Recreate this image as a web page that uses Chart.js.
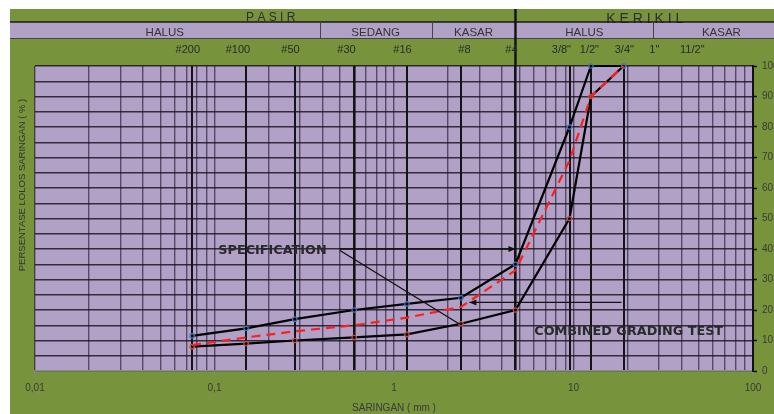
<!DOCTYPE html>
<html>
<head>
<meta charset="utf-8">
<script src="https://cdn.jsdelivr.net/npm/chart.js@4.4.1/dist/chart.umd.min.js"></script>
<style>
  html, body { margin: 0; padding: 0; background: #fff; }
  canvas { display: block; }
</style>
</head>
<body>
<canvas id="chart" width="774" height="414"></canvas>
<script>
// sieve openings (mm) and percent passing
const sieveSizes = [0.075, 0.15, 0.28, 0.6, 1.18, 2.36, 4.75, 9.5, 12.5, 19];
const specUpper  = [11.5, 14, 17, 20, 22, 24, 35, 80, 100, 100];
const specLower  = [8, 9, 10, 11, 12, 15.5, 20, 50, 90, 100];
const combined   = [8.5, 11, 13, 15, 17.5, 21, 33, 69, 90, 100];

// sieve names along the top, and where each name sits (mm)
const sieveNames  = ['#200', '#100', '#50', '#30', '#16', '#8', '#4', '3/8"', '1/2"', '3/4"', '1"', '11/2"'];
const sieveNameAt = [0.071, 0.135, 0.265, 0.544, 1.115, 2.47, 4.51, 8.56, 12.26, 19.2, 28.2, 45.9];

// header bands (edges in mm)
const groupNames = ['P A S I R', 'K E R I K I L'];
const groupEdges = [0.0072, 4.75, 160];
const bandNames  = ['HALUS', 'SEDANG', 'KASAR', 'HALUS', 'KASAR'];
const bandEdges  = [0.0072, 0.385, 1.62, 4.75, 27.8, 160];

const xDecades    = [0.01, 0.1, 1, 10, 100];
const xTickLabels = ['0,01', '0,1', '1', '10', '100'];

const GREEN = '#77933c';
const PURPLE = '#b2a1c7';
const TEXT = '#333';

// vertical grid: every log minor line plus each sieve opening
const xGridValues = [];
for (let e = -2; e < 2; e++) {
  for (let k = 1; k < 10; k++) xGridValues.push(+(k * Math.pow(10, e)).toPrecision(3));
}
xGridValues.push(100);
sieveSizes.forEach(s => { if (!xGridValues.includes(s)) xGridValues.push(s); });
xGridValues.sort((a, b) => a - b);

function vWidth(v) {
  if (v === 0.6 || v === 4.75) return 2.6;
  if (sieveSizes.includes(v)) return 2;
  return 1.4;
}
function vColor(v) {
  if (sieveSizes.includes(v)) return '#141414';
  return 'rgba(30,20,40,0.62)';
}

function arrow(ctx, x1, y1, x2, y2) {
  ctx.beginPath();
  ctx.moveTo(x1, y1);
  ctx.lineTo(x2, y2);
  ctx.stroke();
  const ang = Math.atan2(y2 - y1, x2 - x1);
  ctx.beginPath();
  ctx.moveTo(x2, y2);
  ctx.lineTo(x2 - 7 * Math.cos(ang) + 3 * Math.sin(ang), y2 - 7 * Math.sin(ang) - 3 * Math.cos(ang));
  ctx.lineTo(x2 - 7 * Math.cos(ang) - 3 * Math.sin(ang), y2 - 7 * Math.sin(ang) + 3 * Math.cos(ang));
  ctx.closePath();
  ctx.fill();
}

const backdrop = {
  id: 'backdrop',
  beforeDraw(chart) {
    const { ctx, width, height, chartArea: a } = chart;
    ctx.save();
    ctx.fillStyle = '#fff';
    ctx.fillRect(0, 0, width, height);
    ctx.fillStyle = GREEN;
    ctx.fillRect(10, 9, width - 10, height - 9);
    ctx.fillStyle = PURPLE;
    ctx.fillRect(10, 22, width - 10, 16);
    ctx.fillRect(a.left, a.top, a.right - a.left, a.bottom - a.top);
    ctx.restore();
  },
  afterDraw(chart) {
    const { ctx, width, chartArea: a } = chart;
    const xs = chart.scales.x, ys = chart.scales.y;
    const px = v => xs.getPixelForValue(v);
    const py = v => ys.getPixelForValue(v);
    ctx.save();
    ctx.beginPath();
    ctx.rect(10, 9, width - 10, a.top - 9);
    ctx.clip();

    // group row
    ctx.fillStyle = '#2f2f2f';
    ctx.textAlign = 'center';
    ctx.textBaseline = 'alphabetic';
    groupNames.forEach((n, i) => {
      const x = (Math.max(px(groupEdges[i]), 10) + Math.min(px(groupEdges[i + 1]), width)) / 2;
      ctx.font = i === 0 ? '12px "Liberation Sans", Arial, sans-serif' : '14px "Liberation Sans", Arial, sans-serif';
      ctx.fillText(n, i === 0 ? x + 8 : x, i === 0 ? 21 : 22.5);
    });
    // band row
    ctx.font = '11.5px "Liberation Sans", Arial, sans-serif';
    ctx.fillStyle = TEXT;
    bandNames.forEach((n, i) => {
      const l = Math.max(px(bandEdges[i]), 10);
      const r = px(bandEdges[i + 1]);
      ctx.fillText(n, (l + r) / 2, 35.5);
    });
    ctx.strokeStyle = '#1a1a1a';
    ctx.lineWidth = 1.5;
    ctx.beginPath(); ctx.moveTo(10, 22); ctx.lineTo(width, 22); ctx.stroke();
    ctx.strokeStyle = '#444';
    ctx.lineWidth = 1;
    ctx.beginPath(); ctx.moveTo(10, 38.5); ctx.lineTo(width, 38.5); ctx.stroke();
    bandEdges.slice(1, -1).forEach(e => {
      const x = Math.round(px(e)) + 0.5;
      ctx.beginPath(); ctx.moveTo(x, 22); ctx.lineTo(x, 38.5); ctx.stroke();
    });
    // PASIR / KERIKIL divider follows the #4 sieve line
    ctx.strokeStyle = '#111';
    ctx.lineWidth = 2.4;
    ctx.beginPath(); ctx.moveTo(px(4.75), 9); ctx.lineTo(px(4.75), a.top); ctx.stroke();
    // sieve names
    ctx.font = '11px "Liberation Sans", Arial, sans-serif';
    ctx.fillStyle = '#2a2a2a';
    ctx.textBaseline = 'middle';
    sieveNames.forEach((n, i) => ctx.fillText(n, px(sieveNameAt[i]), 50));
    ctx.restore();

    // y title
    ctx.save();
    ctx.translate(22, 185);
    ctx.rotate(-Math.PI / 2);
    ctx.font = '9.5px "Liberation Sans", Arial, sans-serif';
    ctx.fillStyle = TEXT;
    ctx.textAlign = 'center';
    ctx.textBaseline = 'middle';
    ctx.fillText('PERSENTASE LOLOS SARINGAN ( % )', 0, 0);
    ctx.restore();

    // annotations
    ctx.save();
    ctx.strokeStyle = '#111';
    ctx.fillStyle = '#111';
    ctx.lineWidth = 1.3;
    arrow(ctx, px(0.5), py(40), px(4.75), py(40));
    ctx.beginPath(); ctx.moveTo(px(0.5), py(39.5)); ctx.lineTo(px(2.3), py(15.5)); ctx.stroke();
    arrow(ctx, px(18.5), py(22.5), px(2.63), py(22.5));
    ctx.fillStyle = '#2a2a2a';
    ctx.textAlign = 'left';
    ctx.textBaseline = 'middle';
    ctx.font = 'bold 12.8px "DejaVu Sans", sans-serif';
    ctx.fillText('SPECIFICATION', px(0.105), py(39.5));
    ctx.font = 'bold 12.8px "DejaVu Sans", sans-serif';
    ctx.fillText('COMBINED GRADING TEST', px(6.05), py(13));
    ctx.restore();
  }
};

const pts = vals => sieveSizes.map((s, i) => ({ x: s, y: vals[i] }));

new Chart(document.getElementById('chart'), {
  type: 'line',
  data: {
    datasets: [
      {
        label: 'Combined grading test',
        data: pts(combined),
        borderColor: '#ff1e1e',
        borderWidth: 2.2,
        borderDash: [9, 6],
        pointRadius: 0,
        tension: 0,
        clip: false,
        order: 0
      },
      {
        label: 'Specification upper',
        data: pts(specUpper),
        borderColor: '#000',
        borderWidth: 2.2,
        pointRadius: 2.2,
        pointBorderWidth: 1.2,
        pointBorderColor: '#3f74b5',
        pointBackgroundColor: 'rgba(0,0,0,0)',
        tension: 0,
        clip: false,
        order: 1
      },
      {
        label: 'Specification lower',
        data: pts(specLower),
        borderColor: '#000',
        borderWidth: 2.2,
        pointRadius: 2.2,
        pointBorderWidth: 1.2,
        pointBorderColor: '#c0504d',
        pointBackgroundColor: 'rgba(0,0,0,0)',
        tension: 0,
        clip: false,
        order: 1
      }
    ]
  },
  options: {
    responsive: false,
    animation: false,
    layout: { padding: { top: 66, left: 0, right: 0, bottom: 0 } },
    plugins: { legend: { display: false }, tooltip: { enabled: false } },
    scales: {
      x: {
        type: 'logarithmic',
        position: 'bottom',
        min: 0.01,
        max: 100,
        afterBuildTicks: s => { s.ticks = xGridValues.map(v => ({ value: v })); },
        afterFit: s => { s.height = 43; },
        ticks: {
          autoSkip: false,
          maxRotation: 0,
          color: '#3a3a3a',
          font: { family: '"Liberation Sans", Arial, sans-serif', size: 10 },
          padding: 7,
          callback: v => {
            const i = xDecades.indexOf(v);
            return i >= 0 ? xTickLabels[i] : '';
          }
        },
        grid: {
          color: c => vColor(c.tick.value),
          lineWidth: c => vWidth(c.tick.value),
          tickLength: 4,
          tickWidth: 1,
          tickColor: c => xDecades.includes(c.tick.value) ? '#8c8c8c' : 'rgba(0,0,0,0)'
        },
        border: { color: '#8c8c8c', width: 1.5 },
        title: {
          display: true,
          text: 'SARINGAN ( mm )',
          color: '#3a3a3a',
          font: { family: '"Liberation Sans", Arial, sans-serif', size: 10 },
          padding: { top: 0, bottom: 0 }
        }
      },
      y: {
        type: 'linear',
        position: 'left',
        min: 0,
        max: 100,
        afterFit: s => { s.width = 35; },
        ticks: { display: false, stepSize: 5 },
        grid: { color: 'rgba(20,15,25,0.8)', lineWidth: 1.4, drawTicks: false },
        border: { display: false }
      },
      y2: {
        type: 'linear',
        position: 'right',
        min: 0,
        max: 100,
        afterFit: s => { s.width = 21; },
        ticks: {
          stepSize: 10,
          color: '#3a3a3a',
          font: { family: '"Liberation Sans", Arial, sans-serif', size: 10 },
          padding: 5
        },
        grid: { drawOnChartArea: false, tickLength: 4, tickColor: '#111', tickWidth: 1.5 },
        border: { color: '#111', width: 2 }
      }
    }
  },
  plugins: [backdrop]
});
</script>
</body>
</html>
